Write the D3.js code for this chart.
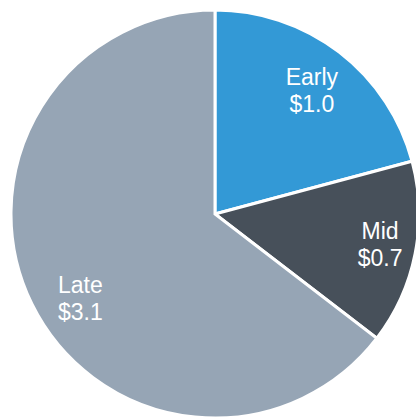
<!DOCTYPE html>
<html>
   <head>
      <title>Pie chart</title>
      <style>
         body { margin: 0; background: #fff; }
         .label {
         fill: #fff;
         font-family: "Liberation Sans", Arial, sans-serif;
         font-size: 23px;
         }
      </style>
      <script src="https://d3js.org/d3.v7.min.js"></script>
   </head>
   <body>
      <script>
         // data
         var categories = ["Early", "Mid", "Late"];
         var values = [1.0, 0.7, 3.1];
         var colors = ["#3399d6", "#47505a", "#96a5b5"];

         // small hand nudges so the labels sit where the original put them
         var labelNudge = [[0, 3], [9, 0], [8, 15]];

         var w = 416;
         var h = 418;
         var cx = 215;
         var cy = 214;
         var radius = 204;

         var svg = d3.select("body")
                     .append("svg")
                     .attr("width", w)
                     .attr("height", h);

         var g = svg.append("g")
                    .attr("transform", "translate(" + cx + "," + cy + ")");

         // keep slices in given order, clockwise from 12 o'clock
         var pie = d3.pie().sort(null).value(function(d) { return d; });
         var arcs = pie(values);

         var arc = d3.arc().innerRadius(0).outerRadius(radius);
         var labelArc = d3.arc().innerRadius(radius * 0.78).outerRadius(radius * 0.78);

         g.selectAll("path")
          .data(arcs)
          .enter()
          .append("path")
          .attr("d", arc)
          .attr("fill", function(d, i) { return colors[i]; })
          .attr("stroke", "#fff")
          .attr("stroke-width", 3);

         // two-line labels: name and dollar value
         var labels = g.selectAll("text.label")
          .data(arcs)
          .enter()
          .append("text")
          .attr("class", "label")
          .attr("text-anchor", "middle")
          .attr("transform", function(d, i) {
             var c = labelArc.centroid(d);
             return "translate(" + (c[0] + labelNudge[i][0]) + "," + (c[1] + labelNudge[i][1]) + ")";
          });

         labels.append("tspan")
               .attr("x", 0)
               .attr("y", -6)
               .text(function(d, i) { return categories[i]; });

         labels.append("tspan")
               .attr("x", 0)
               .attr("y", 21)
               .text(function(d) { return "$" + d.value.toFixed(1); });
      </script>
   </body>
</html>
